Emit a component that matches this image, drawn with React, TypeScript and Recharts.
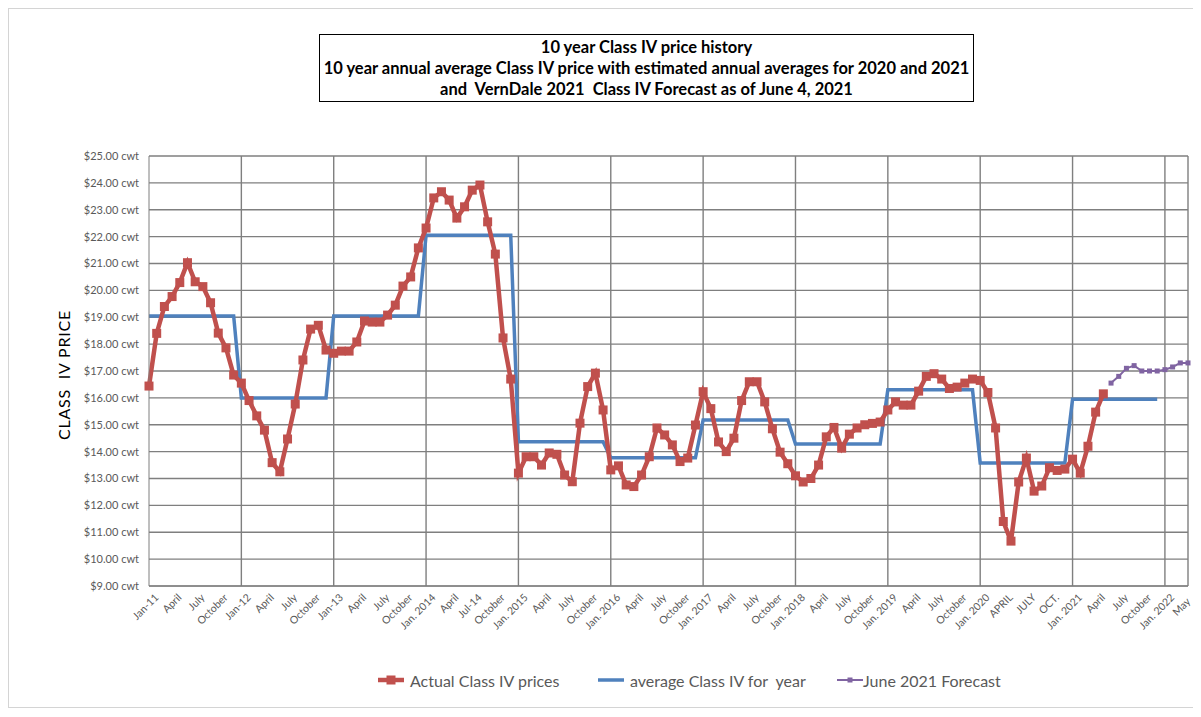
import React from 'react';
import { LineChart, Line, XAxis, YAxis, CartesianGrid, ReferenceLine } from 'recharts';

// one label every 3 months, Jan-11 .. May 2022
const tickLabels = [
  'Jan-11', 'April', 'July', 'October',
  'Jan-12', 'April', 'July', 'October',
  'Jan-13', 'April', 'July', 'October',
  'Jan. 2014', 'April', 'Jul-14', 'October',
  'Jan. 2015', 'April', 'July', 'October',
  'Jan. 2016', 'April', 'July', 'October',
  'Jan. 2017', 'April', 'July', 'October',
  'Jan. 2018', 'April', 'July', 'October',
  'Jan. 2019', 'April', 'July', 'October',
  'Jan. 2020', 'APRIL', 'JULY', 'OCT.',
  'Jan. 2021', 'April', 'July', 'October',
  'Jan. 2022', 'May',
];

// monthly Class IV, Jan 2011 - May 2021
const actualPrices = [
  16.44, 18.4, 19.4, 19.77, 20.29, 21.03, 20.32, 20.14, 19.54, 18.41, 17.86, 16.85,
  16.55, 15.9, 15.33, 14.8, 13.59, 13.25, 14.47, 15.77, 17.41, 18.56, 18.7, 17.78,
  17.66, 17.74, 17.74, 18.08, 18.86, 18.82, 18.82, 19.08, 19.45, 20.16, 20.5, 21.58,
  22.32, 23.44, 23.67, 23.36, 22.69, 23.11, 23.73, 23.92, 22.55, 21.35, 18.23, 16.7,
  13.2, 13.81, 13.81, 13.5, 13.95, 13.9, 13.13, 12.88, 15.06, 16.42, 16.92, 15.55,
  13.32, 13.47, 12.76, 12.7, 13.13, 13.81, 14.88, 14.62, 14.25, 13.63, 13.76, 14.99,
  16.23, 15.6, 14.36, 14.0, 14.5, 15.9, 16.6, 16.6, 15.85, 14.85, 13.98, 13.55,
  13.1, 12.87, 13.0, 13.5, 14.55, 14.9, 14.13, 14.65, 14.88, 15.0, 15.05, 15.1,
  15.55, 15.85, 15.73, 15.73, 16.25, 16.8, 16.9, 16.7, 16.35, 16.4, 16.55, 16.7,
  16.65, 16.2, 14.88, 11.4, 10.67, 12.87, 13.76, 12.53, 12.72, 13.4, 13.3, 13.35,
  13.72, 13.2, 14.2, 15.47, 16.15,
];

// annual averages 2011 - 2021
const yearlyAverages = [19.05, 16.0, 19.05, 22.05, 14.37, 13.77, 15.18, 14.28, 16.3, 13.58, 15.95];

// VernDale forecast, Jun 2021 - May 2022
const forecastPrices = [16.55, 16.8, 17.1, 17.2, 17.0, 17.0, 17.0, 17.05, 17.15, 17.3, 17.3];

const yTicks = [9, 10, 11, 12, 13, 14, 15, 16, 17, 18, 19, 20, 21, 22, 23, 24, 25];

const MONTHS = tickLabels.length * 3 - 2;
const FORECAST_START = MONTHS - forecastPrices.length;

const data = Array.from({ length: MONTHS }, (_, i) => ({
  i,
  actual: i < actualPrices.length ? actualPrices[i] : null,
  average: i < yearlyAverages.length * 12 ? yearlyAverages[Math.floor(i / 12)] : null,
  forecast: i >= FORECAST_START ? forecastPrices[i - FORECAST_START] : null,
}));

const yearLines = [12, 24, 36, 48, 60, 72, 84, 96, 108, 120, 132, MONTHS - 1];

const FONT = 'Lato, "Open Sans", sans-serif';
const RED = '#C0504D';
const BLUE = '#4F81BD';
const PURPLE = '#8064A2';
const GRID = '#7f7f7f';

const squareDot = (size: number, color: string) => (props: any) => {
  const { cx, cy, index } = props;
  if (cx == null || cy == null || props.value == null) return <g key={index} />;
  return <rect key={index} x={cx - size / 2} y={cy - size / 2} width={size} height={size} fill={color} />;
};

const MonthTick = ({ x, y, payload }: any) => {
  // last label sits at the right edge of the page, pull it in a bit
  const last = payload.value === MONTHS - 1;
  return (
    <g transform={`translate(${last ? x - 2 : x + 5},${last ? y + 3 : y - 1}) rotate(-45)`}>
      <text x={0} y={0} dy="0.7em" textAnchor="end" fontSize={10.5} fill="#595959" fontFamily={FONT}>
        {tickLabels[Math.round(payload.value / 3)]}
      </text>
    </g>
  );
};

const LegendItem = ({ left, color, label, marker, thick }: any) => (
  <div style={{ position: 'absolute', left, top: 661, display: 'flex', alignItems: 'center', height: 20 }}>
    <svg width={26} height={12}>
      <line x1={0} y1={6} x2={26} y2={6} stroke={color} strokeWidth={thick} />
      {marker > 0 && <rect x={13 - marker / 2} y={6 - marker / 2} width={marker} height={marker} fill={color} />}
    </svg>
    <span style={{ marginLeft: label.startsWith('June') ? 0 : 6, fontSize: 16, color: '#595959', fontFamily: FONT, whiteSpace: 'pre' }}>
      {label}
    </span>
  </div>
);

const App: React.FC = () => {
  return (
    <div
      style={{
        position: 'relative', width: 1185, height: 700, borderLeft: '1px solid #d4d4d4', borderTop: '1px solid #d4d4d4',
        borderBottom: '1px solid #d4d4d4', boxSizing: 'border-box', background: '#fff',
      }}
    >
      <div
        style={{
          position: 'absolute', left: 310, top: 25, width: 655, height: 68, border: '1px solid #000',
          boxSizing: 'border-box', fontFamily: FONT, fontWeight: 700, fontSize: 16.5, lineHeight: '21px',
          textAlign: 'center', paddingTop: 2, color: '#000', whiteSpace: 'nowrap',
        }}
      >
        <div>10 year Class IV price history</div>
        <div>10 year annual average Class IV price with estimated annual averages for 2020 and 2021</div>
        <div style={{ whiteSpace: 'pre' }}>and  VernDale 2021  Class IV Forecast as of June 4, 2021</div>
      </div>

      <div
        style={{
          position: 'absolute', left: 54, top: 366, transform: 'translate(-50%, -50%) rotate(-90deg)',
          fontFamily: FONT, fontSize: 16, letterSpacing: 0.8, color: '#000', whiteSpace: 'pre',
        }}
      >
        CLASS  IV PRICE
      </div>

      <LineChart
        width={1185}
        height={690}
        data={data}
        margin={{ top: 147, right: 6, left: 0, bottom: 52 }}
        style={{ position: 'absolute', left: 0, top: 0 }}
      >
        <CartesianGrid vertical={false} stroke={GRID} strokeWidth={1.4} />
        {yearLines.map((v) => (
          <ReferenceLine key={v} x={v} stroke={GRID} strokeWidth={1.4} />
        ))}
        <XAxis
          type="number"
          dataKey="i"
          domain={[0, MONTHS - 1]}
          ticks={tickLabels.map((_, k) => k * 3)}
          tick={<MonthTick />}
          tickLine={false}
          axisLine={{ stroke: '#7f7f7f' }}
          interval={0}
          height={61}
        />
        <YAxis
          width={140}
          domain={[9, 25]}
          ticks={yTicks}
          interval={0}
          tickLine={false}
          axisLine={{ stroke: '#7f7f7f' }}
          tickFormatter={(v: number) => `$${v.toFixed(2)} cwt`}
          tick={{ fontSize: 11, fill: '#595959', fontFamily: FONT }}
          tickMargin={4}
        />
        <Line type="linear" dataKey="average" stroke={BLUE} strokeWidth={3.5} dot={false} isAnimationActive={false} />
        <Line
          type="linear"
          dataKey="actual"
          stroke={RED}
          strokeWidth={4.5}
          dot={squareDot(9, RED)}
          isAnimationActive={false}
        />
        <Line
          type="linear"
          dataKey="forecast"
          stroke={PURPLE}
          strokeWidth={2}
          dot={squareDot(5, PURPLE)}
          isAnimationActive={false}
        />
      </LineChart>

      <LegendItem left={369} color={RED} label="Actual Class IV prices" marker={9} thick={4.5} />
      <LegendItem left={589} color={BLUE} label="average Class IV for  year" marker={0} thick={3.5} />
      <LegendItem left={828} color={PURPLE} label="June 2021 Forecast" marker={5} thick={2} />
    </div>
  );
};

export default App;
